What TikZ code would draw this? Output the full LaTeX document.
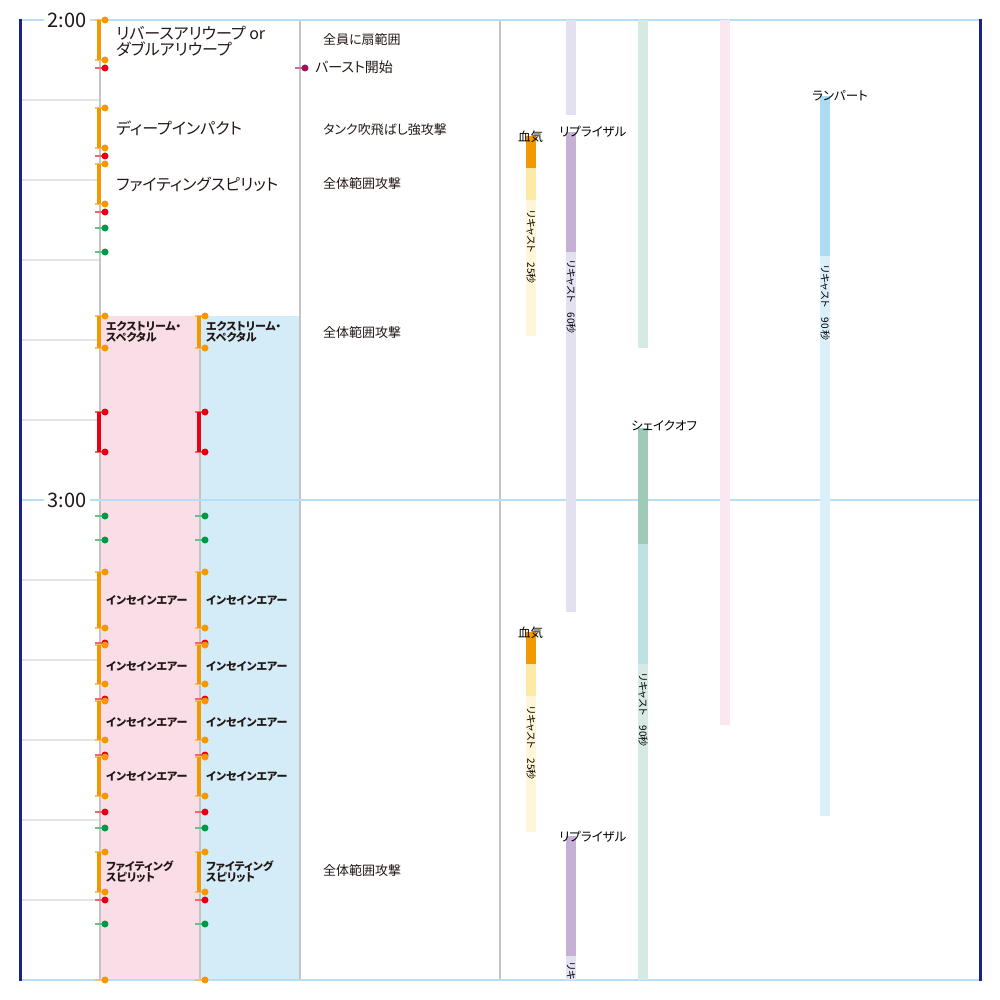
\documentclass[tikz,border=0pt]{standalone}
\usepackage{fontspec}
\setmainfont{Noto Sans CJK JP}[RawFeature=+palt]
\newcommand\fsz[1]{\fontsize{#1}{#1}\selectfont}

\definecolor{inkC}{HTML}{231815}
\definecolor{navyC}{HTML}{1D2088}
\definecolor{hourC}{HTML}{B7DEF4}
\definecolor{laneC}{HTML}{C4C4C4}
\definecolor{minorC}{HTML}{E4E4E4}
\definecolor{orangeC}{HTML}{F39800}
\definecolor{redC}{HTML}{E60012}
\definecolor{greenC}{HTML}{009944}
\definecolor{burstC}{HTML}{A0115A}
\definecolor{boxpinkC}{HTML}{F9DDE7}
\definecolor{boxblueC}{HTML}{D4EBF8}
\definecolor{bwA}{HTML}{F39800}
\definecolor{bwB}{HTML}{FFE9A6}
\definecolor{bwC}{HTML}{FFF5D9}
\definecolor{rpA}{HTML}{C6B0D5}
\definecolor{rpB}{HTML}{E3E1F1}
\definecolor{soA}{HTML}{9DCBB7}
\definecolor{soB}{HTML}{BDE2E3}
\definecolor{soC}{HTML}{D5EBE1}
\definecolor{pkC}{HTML}{FBE7F0}
\definecolor{rmA}{HTML}{ACDCF4}
\definecolor{rmB}{HTML}{DBEFFA}

% bar with dots at both ends: colour, x, y1, y2
\newcommand\castbar[4]{%
  \draw[#1!60, line width=1.5] (#2-5,#3) -- (#2+3,#3);
  \draw[#1!60, line width=1.5] (#2-5,#4) -- (#2+3,#4);
  \draw[#1, line width=3.5] (#2-1,#3) -- (#2-1,#4);
  \fill[#1] (#2+5,#3) circle (3.5pt) (#2+5,#4) circle (3.5pt);
}
% single dot with its tick: colour, x, y
\newcommand\tickdot[3]{%
  \draw[#1!60, line width=1.5] (#2-5,#3) -- (#2+3,#3);
  \fill[#1] (#2+5,#3) circle (3.5pt);
}

\begin{document}
\begin{tikzpicture}[x=1pt,y=-1pt,
  lane/.style={draw=laneC, line width=2},
  minorline/.style={draw=minorC, line width=1.5},
  hourline/.style={draw=hourC, line width=2},
  hourtxt/.style={fill=white, inner xsep=4pt, inner ysep=0pt, text=inkC, font=\fsz{20}},
  bigtxt/.style={anchor=west, inner sep=0, text=inkC, font=\fsz{16}, align=left},
  notetxt/.style={anchor=west, inner sep=0, text=inkC, font=\fsz{13}},
  boxtxt/.style={anchor=west, inner sep=0, text=inkC, font=\fsz{11}\bfseries, align=left},
  bufftxt/.style={anchor=base west, inner sep=0, text=black, font=\fsz{12.5}},
  recast/.style={rotate=-90, anchor=west, inner sep=0, text=black, font=\fsz{10}}]
  \useasboundingbox (0,0) rectangle (1000,1000);

  % party boxes
  \fill[boxpinkC] (100,316) rectangle (200,980);
  \fill[boxblueC] (200,316) rectangle (300,980);

  % minor grid, every 10 s
  \foreach \y in {100,180,260,340,420,580,660,740,820,900} {
    \draw[minorline] (20,\y) -- (100,\y);
  }

  % lanes
  \draw[lane] (100,20) -- (100,980);
  \draw[lane] (200,316) -- (200,980);
  \draw[lane] (300,20) -- (300,980);
  \draw[lane] (500,20) -- (500,980);

  % hour lines
  \draw[hourline] (20,20) -- (980,20);
  \draw[hourline] (20,500) -- (980,500);
  \draw[hourline] (20,980) -- (980,980);
  \node[hourtxt] (t200) at (67,20) {2:00};
  \node[hourtxt] (t300) at (67,500) {3:00};

  % frame
  \draw[navyC, line width=3] (20,19) -- (20,981);
  \draw[navyC, line width=3] (980,19) -- (980,981);

  % first lane
  \castbar{orangeC}{100}{20}{60}
  \castbar{orangeC}{100}{108}{148}
  \castbar{orangeC}{100}{164}{204}
  \foreach \y in {68,156,212} {\tickdot{redC}{100}{\y}}
  \foreach \y in {228,252} {\tickdot{greenC}{100}{\y}}
  \node[bigtxt] (aa) at (116,41) {\fontsize{16}{14}\selectfont リバースアリウープ or\\ダブルアリウープ};
  \node[bigtxt] (di) at (116,128) {ディープインパクト};
  \node[bigtxt] (fs) at (116,184) {ファイティングスピリット};

  % both boxes
  \foreach \x in {100,200} {
    \castbar{orangeC}{\x}{316}{348}
    \castbar{redC}{\x}{412}{452}
    \foreach \y in {516,540,828,924} {\tickdot{greenC}{\x}{\y}}
    \foreach \y in {643,699,755,812,900} {\tickdot{redC}{\x}{\y}}
    \castbar{orangeC}{\x}{572}{628}
    \castbar{orangeC}{\x}{645}{684}
    \castbar{orangeC}{\x}{701}{740}
    \castbar{orangeC}{\x}{757}{796}
    \castbar{orangeC}{\x}{852}{892}
    \tickdot{orangeC}{\x}{980}
  }
  \node[boxtxt] (esA) at (106,332) {\fontsize{11}{11}\selectfont エクストリーム・\\スペクタル};
  \node[boxtxt] (esB) at (206,332) {\fontsize{11}{11}\selectfont エクストリーム・\\スペクタル};
  \foreach \y [count=\i] in {600,666,722,776} {
    \node[boxtxt] (iaA\i) at (106,\y) {インセインエアー};
    \node[boxtxt] (iaB\i) at (206,\y) {インセインエアー};
  }
  \node[boxtxt] (fsA) at (106,872) {\fontsize{11}{11}\selectfont ファイティング\\スピリット};
  \node[boxtxt] (fsB) at (206,872) {\fontsize{11}{11}\selectfont ファイティング\\スピリット};

  % boss notes
  \tickdot{burstC}{300}{68}
  \node[notetxt] (n1) at (323,40) {全員に扇範囲};
  \node[notetxt, font=\fsz{14}] (burst) at (315,67) {バースト開始};
  \node[notetxt] (n2) at (323,130) {タンク吹飛ばし強攻撃};
  \node[notetxt] (n3) at (323,184) {全体範囲攻撃};
  \node[notetxt] (n4) at (323,333) {全体範囲攻撃};
  \node[notetxt] (n5) at (323,871) {全体範囲攻撃};

  % buffs: bloodwhetting
  \foreach \s in {136,632} {
    \fill[bwA] (526,\s) rectangle (536,\s+32);
    \fill[bwB] (526,\s+32) rectangle (536,\s+64);
    \fill[bwC] (526,\s+64) rectangle (536,\s+200);
  }
  \node[bufftxt] (bw1) at (518,142) {血気};
  \node[bufftxt] (bw2) at (518,637) {血気};
  \node[recast] (bw1r) at (531,210) {リキャスト　25秒};
  \node[recast] (bw2r) at (531,706) {リキャスト　25秒};

  % reprisal
  \fill[rpB] (566,20) rectangle (576,115);
  \fill[rpA] (566,132) rectangle (576,252);
  \fill[rpB] (566,252) rectangle (576,612);
  \fill[rpA] (566,836) rectangle (576,956);
  \fill[rpB] (566,956) rectangle (576,980);
  \node[bufftxt] (rp1) at (559,137) {リプライザル};
  \node[bufftxt] (rp2) at (559,841) {リプライザル};
  \node[recast] (rp1r) at (571,260) {リキャスト　60秒};
  \node[recast] (rp2r) at (571,962) {リキ};

  % shake off
  \fill[soC] (638,20) rectangle (648,348);
  \fill[soA] (638,428) rectangle (648,544);
  \fill[soB] (638,544) rectangle (648,664);
  \fill[soC] (638,664) rectangle (648,980);
  \node[bufftxt] (so) at (631,430) {シェイクオフ};
  \node[recast] (sor) at (643,673) {リキャスト　90秒};

  % pink lane
  \fill[pkC] (720,20) rectangle (730,725);

  % rampart
  \fill[rmA] (820,96) rectangle (830,256);
  \fill[rmB] (820,256) rectangle (830,816);
  \node[bufftxt] (rm) at (812,101) {ランパート};
  \node[recast] (rmr) at (825,265) {リキャスト　90 秒};

\end{tikzpicture}
\end{document}
